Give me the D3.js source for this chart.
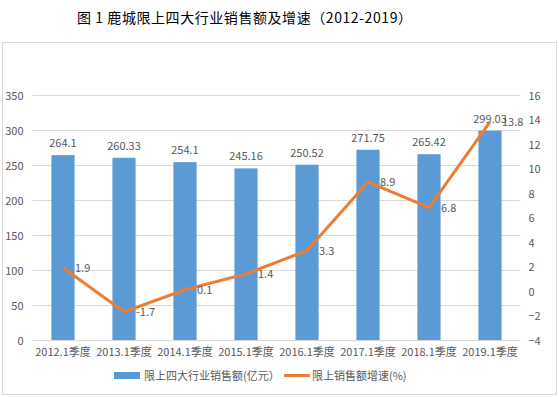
<!DOCTYPE html>
<html>
<head>
<meta charset="utf-8">
<script src="https://cdn.jsdelivr.net/npm/d3@7"></script>
<style>
  body { margin: 0; background: #fff; }
  svg text { font-family: "Microsoft YaHei", "Noto Sans CJK SC", sans-serif; fill: #595959; }
</style>
</head>
<body>
<div id="chart"></div>
<script>
// chart data
const categories = ["2012.1季度", "2013.1季度", "2014.1季度", "2015.1季度", "2016.1季度", "2017.1季度", "2018.1季度", "2019.1季度"];
const salesValues = [264.1, 260.33, 254.1, 245.16, 250.52, 271.75, 265.42, 299.03];
const growthValues = [1.9, -1.7, 0.1, 1.4, 3.3, 8.9, 6.8, 13.8];
const leftTicks = [0, 50, 100, 150, 200, 250, 300, 350];
const rightTicks = [-4, -2, 0, 2, 4, 6, 8, 10, 12, 14, 16];

const width = 559, height = 397;
const plot = {left: 32.5, right: 520.5, top: 95, bottom: 340};

let svg = d3.select("#chart")
    .append("svg")
    .attr("width", width)
    .attr("height", height);

// title
svg.append("text")
    .attr("x", 77)
    .attr("y", 23)
    .attr("textLength", 335)
    .attr("lengthAdjust", "spacing")
    .style("font-family", "'Noto Sans CJK SC', sans-serif")
    .style("font-size", "14px")
    .style("fill", "#000")
    .text("图 1 鹿城限上四大行业销售额及增速（2012-2019）");

// chart border
svg.append("rect")
    .attr("x", 2.5).attr("y", 42.5)
    .attr("width", 554).attr("height", 352)
    .attr("fill", "none")
    .attr("stroke", "#d9d9d9");

let x = d3.scaleBand()
    .domain(categories)
    .range([plot.left, plot.right])
    .padding(0);

let yLeft = d3.scaleLinear().domain([0, 350]).range([plot.bottom, plot.top]);
let yRight = d3.scaleLinear().domain([-4, 16]).range([plot.bottom, plot.top]);

// gridlines
svg.append("g")
    .selectAll("line")
    .data(leftTicks)
    .enter()
    .append("line")
    .attr("x1", plot.left)
    .attr("x2", plot.right)
    .attr("y1", d => Math.round(yLeft(d)) + 0.5)
    .attr("y2", d => Math.round(yLeft(d)) + 0.5)
    .attr("stroke", "#d9d9d9");

const tickFont = "'Microsoft YaHei', 'Noto Sans CJK SC', sans-serif";

// left axis
let axisL = svg.append("g")
    .attr("transform", `translate(${plot.left}, 0.5)`)
    .call(d3.axisLeft(yLeft).tickValues(leftTicks).tickSize(0).tickPadding(9));
axisL.select(".domain").remove();
axisL.selectAll("text").style("font-size", "11px").style("font-family", tickFont).style("fill", "#595959");

// right axis
let axisR = svg.append("g")
    .attr("transform", `translate(${plot.right}, 0.5)`)
    .call(d3.axisRight(yRight).tickValues(rightTicks).tickSize(0).tickPadding(8));
axisR.select(".domain").remove();
axisR.selectAll("text").style("font-size", "11px").style("font-family", tickFont).style("fill", "#595959");

// category labels
let axisB = svg.append("g")
    .attr("transform", `translate(0, ${plot.bottom})`)
    .call(d3.axisBottom(x).tickSize(0).tickPadding(8));
axisB.select(".domain").remove();
axisB.selectAll("text").style("font-size", "11px").style("font-family", tickFont).style("fill", "#595959");

const barW = x.bandwidth() * 0.38;

// bars
svg.append("g")
    .selectAll("rect")
    .data(salesValues)
    .enter()
    .append("rect")
    .attr("x", (d, i) => x(categories[i]) + x.bandwidth() / 2 - barW / 2)
    .attr("y", d => yLeft(d))
    .attr("width", barW)
    .attr("height", d => yLeft(0) - yLeft(d))
    .attr("fill", "#5b9bd5");

// bar labels
svg.append("g")
    .selectAll("text")
    .data(salesValues)
    .enter()
    .append("text")
    .attr("x", (d, i) => x(categories[i]) + x.bandwidth() / 2)
    .attr("y", d => yLeft(d) - 8)
    .attr("text-anchor", "middle")
    .style("font-size", "11px")
    .text(d => d);

// growth line
let line = d3.line()
    .x((d, i) => x(categories[i]) + x.bandwidth() / 2)
    .y(d => yRight(d));

svg.append("path")
    .datum(growthValues)
    .attr("d", line)
    .attr("fill", "none")
    .attr("stroke", "#ed7d31")
    .attr("stroke-width", 3)
    .attr("stroke-linejoin", "round");

// line labels
svg.append("g")
    .selectAll("text")
    .data(growthValues)
    .enter()
    .append("text")
    .attr("x", (d, i) => x(categories[i]) + x.bandwidth() / 2 + 12)
    .attr("y", d => yRight(d) + 4)
    .style("font-size", "11px")
    .text(d => d);

// legend
let legend = svg.append("g");
legend.append("rect")
    .attr("x", 114).attr("y", 372)
    .attr("width", 26).attr("height", 7)
    .attr("fill", "#5b9bd5");
legend.append("text")
    .attr("x", 144).attr("y", 380)
    .style("font-size", "11px")
    .text("限上四大行业销售额(亿元）");
legend.append("line")
    .attr("x1", 284).attr("x2", 310)
    .attr("y1", 375.5).attr("y2", 375.5)
    .attr("stroke", "#ed7d31")
    .attr("stroke-width", 3);
legend.append("text")
    .attr("x", 312).attr("y", 380)
    .style("font-size", "11px")
    .text("限上销售额增速(%)");
</script>
</body>
</html>
